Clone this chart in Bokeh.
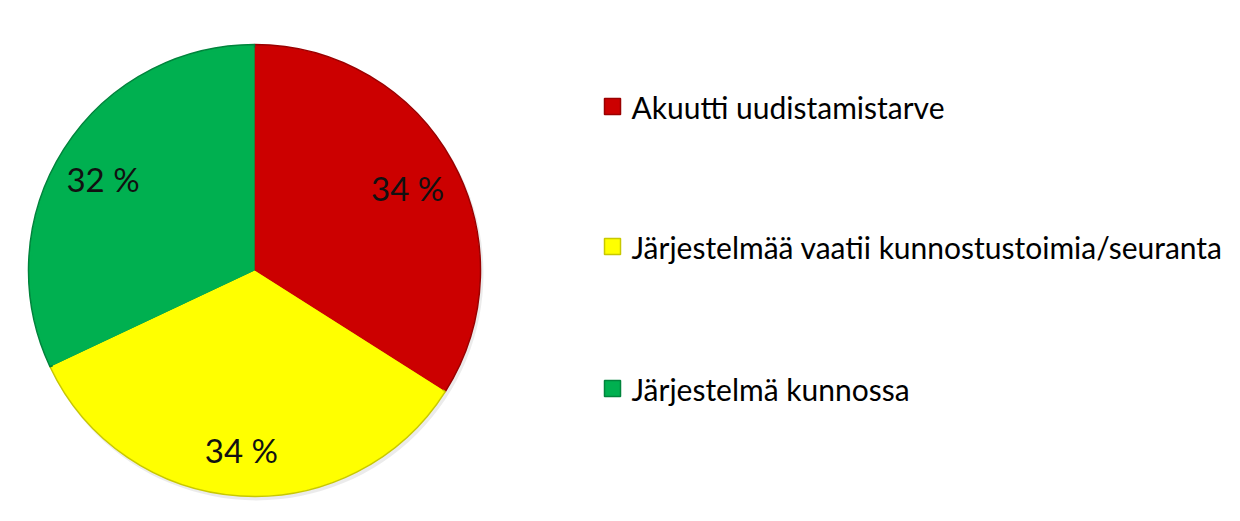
import math
from bokeh.plotting import figure
from bokeh.models import ColumnDataSource
from bokeh.core.properties import value
from bokeh.embed import file_html
from bokeh.resources import INLINE

# Share of systems per condition class
categories = ["Akuutti uudistamistarve",
              "Järjestelmää vaatii kunnostustoimia/seuranta",
              "Järjestelmä kunnossa"]
shares = [34, 34, 32]
labels = ["34 %", "34 %", "32 %"]
colors = ["#CC0000", "#FFFF00", "#00B050"]
edge_colors = ["#9A0000", "#C8C800", "#00843C"]

W, H = 1240, 521
cx, cy, R = 254, H - 270, 226
label_r = 177

total = sum(shares)
starts, ends, lx, ly = [], [], [], []
acc = 0.0
for s in shares:
    a0 = math.pi / 2 - 2 * math.pi * acc / total
    a1 = math.pi / 2 - 2 * math.pi * (acc + s) / total
    starts.append(a0)
    ends.append(a1)
    mid = (a0 + a1) / 2
    lx.append(cx + label_r * math.cos(mid) - 2)
    ly.append(cy + label_r * math.sin(mid) - 3)
    acc += s

src = ColumnDataSource(dict(start=starts, end=ends, color=colors, edge=edge_colors,
                            lx=lx, ly=ly, label=labels, cat=categories))

p = figure(width=W, height=H, x_range=(0, W), y_range=(0, H),
           output_backend="svg", toolbar_location=None,
           min_border=0, outline_line_color=None, background_fill_color="white")
p.axis.visible = False
p.grid.visible = False

# soft shadow under the pie
p.circle(x=cx + 2, y=cy - 3, radius=R + 1, fill_color="#000000", fill_alpha=0.08, line_color=None)

p.wedge(x=cx, y=cy, radius=R, start_angle="start", end_angle="end", direction="clock",
        fill_color="color", line_color="edge", line_width=1.5, source=src)
# bevel: slightly darker rim
p.wedge(x=cx, y=cy, radius=R - 3, start_angle="start", end_angle="end", direction="clock",
        fill_color="color", line_color=None, source=src)

p.text(x="lx", y="ly", text="label", source=src, text_align="center", text_baseline="middle",
       text_font=value("Lato"), text_font_size="33px", text_color="#111111")

# legend
leg_x = 612
leg_y = [H - 106, H - 246, H - 388]
leg_src = ColumnDataSource(dict(x=[leg_x] * 3, y=leg_y, color=colors, edge=edge_colors,
                                tx=[631] * 3, cat=categories))
p.rect(x="x", y="y", width=16, height=16, fill_color="color", line_color="edge",
       line_width=1.5, source=leg_src)
p.text(x="tx", y="y", text="cat", source=leg_src, text_align="left", text_baseline="middle",
       text_font=value("Lato"), text_font_size="30px", text_color="#000000")

open("out.html", "w").write(file_html(p, INLINE))
